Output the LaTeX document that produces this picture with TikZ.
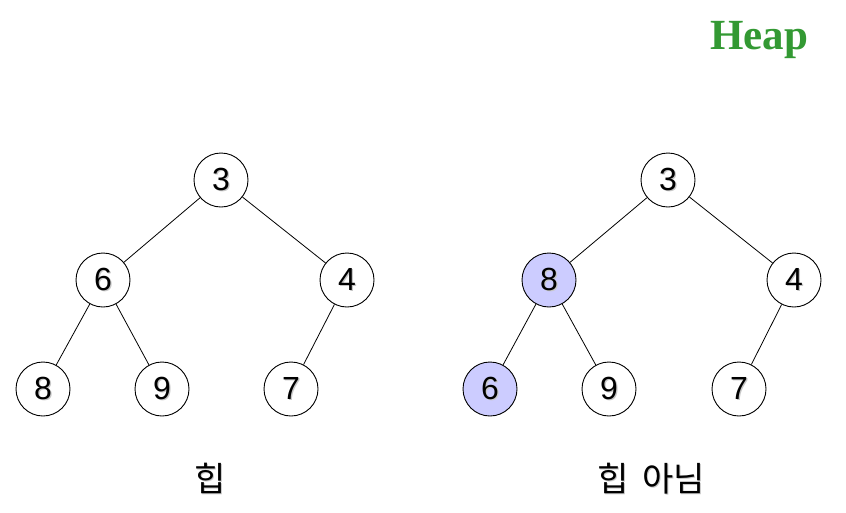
\documentclass[tikz,border=0pt]{standalone}
\usepackage{fontspec}
\setmainfont{Liberation Sans}
\newfontfamily\krfont{Noto Sans CJK KR}
\newfontfamily\titlefont{Liberation Serif}
\definecolor{heapgreen}{HTML}{339933}
\definecolor{badfill}{HTML}{CCCCFF}
% text with a soft drop shadow
\newcommand\shadowed[1]{\makebox[0pt][l]{\kern1.3pt\raisebox{-1.3pt}{\textcolor{black!22}{#1}}}#1}
\tikzset{
  keynode/.style={circle, draw=black, line width=0.9pt, fill=white,
    minimum size=54pt, inner sep=0pt, font=\fontsize{32}{32}\selectfont},
  badnode/.style={keynode, fill=badfill},
  treeedge/.style={draw=black, line width=0.8pt},
  caption/.style={font=\krfont\fontsize{34}{34}\selectfont, anchor=base}
}
\begin{document}
\begin{tikzpicture}[x=1pt, y=-1pt]
\useasboundingbox (0,0) rectangle (846,512);

% title
\node[text=heapgreen, font=\titlefont\bfseries\fontsize{43}{43}\selectfont, anchor=base] (title) at (759,49) {Heap};

% left tree: a valid min-heap
\node[keynode] (a3) at (221,180) {\shadowed{3}};
\node[keynode] (a6) at (103,280) {\shadowed{6}};
\node[keynode] (a4) at (347,280) {\shadowed{4}};
\node[keynode] (a8) at (43,389)  {\shadowed{8}};
\node[keynode] (a9) at (162,389) {\shadowed{9}};
\node[keynode] (a7) at (291,389) {\shadowed{7}};
\path[treeedge] (a3) -- (a6) (a3) -- (a4) (a6) -- (a8) (a6) -- (a9) (a4) -- (a7);

% right tree: heap property violated at 8 / 6
\node[keynode] (b3) at (668,180) {\shadowed{3}};
\node[badnode] (b8) at (549,280) {\shadowed{8}};
\node[keynode] (b4) at (794,280) {\shadowed{4}};
\node[badnode] (b6) at (490,389) {\shadowed{6}};
\node[keynode] (b9) at (609,389) {\shadowed{9}};
\node[keynode] (b7) at (739,389) {\shadowed{7}};
\path[treeedge] (b3) -- (b8) (b3) -- (b4) (b8) -- (b6) (b8) -- (b9) (b4) -- (b7);

% captions
\node[caption] (capA) at (210,491) {\shadowed{힙}};
\node[caption] (capB) at (651,491) {\shadowed{힙}\hspace{14pt}\shadowed{아님}};
\end{tikzpicture}
\end{document}
